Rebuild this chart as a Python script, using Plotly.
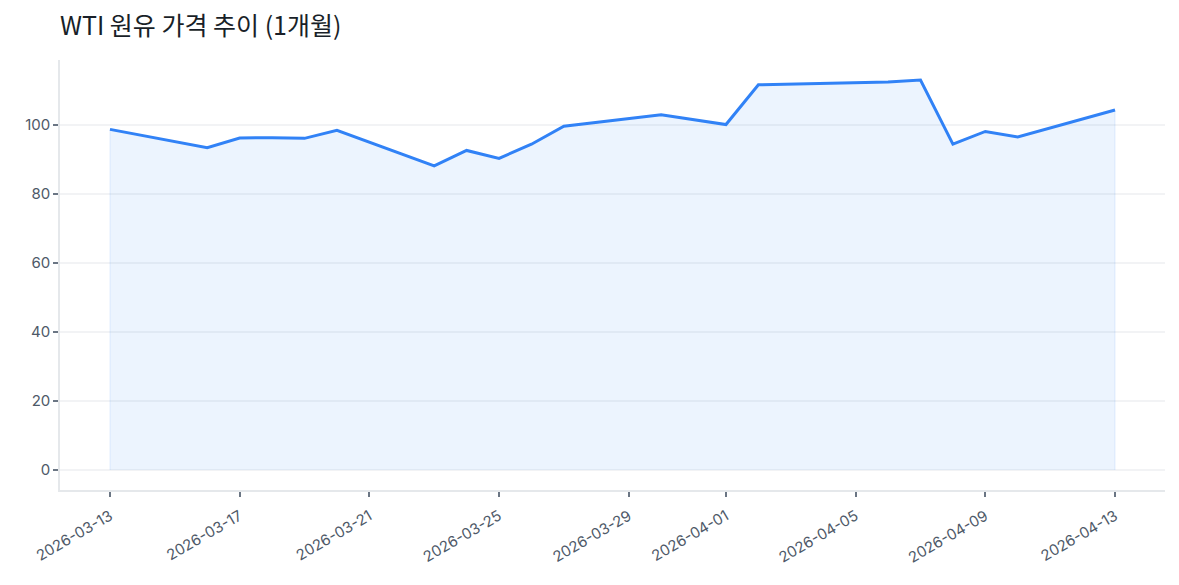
import plotly.graph_objects as go

dates = [
    "2026-03-13", "2026-03-16", "2026-03-17", "2026-03-18", "2026-03-19",
    "2026-03-20", "2026-03-23", "2026-03-24", "2026-03-25", "2026-03-26",
    "2026-03-27", "2026-03-30", "2026-04-01", "2026-04-02", "2026-04-06",
    "2026-04-07", "2026-04-08", "2026-04-09", "2026-04-10", "2026-04-13",
]
prices = [
    98.7, 93.4, 96.2, 96.3, 96.1,
    98.4, 88.1, 92.6, 90.3, 94.4,
    99.6, 102.9, 100.1, 111.6, 112.4,
    113.0, 94.4, 98.1, 96.5, 104.3,
]
tick_dates = [
    "2026-03-13", "2026-03-17", "2026-03-21", "2026-03-25", "2026-03-29",
    "2026-04-01", "2026-04-05", "2026-04-09", "2026-04-13",
]
y_ticks = [0, 20, 40, 60, 80, 100]

line_color = "#3182f6"
tick_font = "Inter, sans-serif"

# page body has an 8px margin, so the figure is sized to fit inside it
W, H = 1163, 569

fig = go.Figure()

# shaded area under the line (closed polygon so the faint edge shows like the original)
fig.add_trace(go.Scatter(
    x=[dates[0]] + dates + [dates[-1]],
    y=[0] + prices + [0],
    mode="lines",
    fill="toself",
    fillcolor="rgba(49,130,246,0.09)",
    line=dict(color="rgba(49,130,246,0.12)", width=1),
    hoverinfo="skip",
    showlegend=False,
))

fig.add_trace(go.Scatter(
    x=dates,
    y=prices,
    mode="lines",
    line=dict(color=line_color, width=3),
    showlegend=False,
))

fig.update_layout(
    width=W,
    height=H,
    paper_bgcolor="white",
    plot_bgcolor="white",
    margin=dict(l=52, r=6, t=52, b=87),
    title=dict(
        text="WTI 원유 가격 추이 (1개월)",
        x=52 / W,
        xanchor="left",
        y=1 - 18 / H,
        yanchor="middle",
        font=dict(family="Noto Sans CJK KR", size=25, color="#191f28"),
    ),
    font=dict(family=tick_font, size=15, color="#4e5968"),
)

fig.update_xaxes(
    type="date",
    range=["2026-03-11 11:00", "2026-04-14 13:00"],
    tickvals=tick_dates,
    tickformat="%Y-%m-%d",
    tickangle=-30,
    ticks="outside",
    ticklen=5,
    tickwidth=1.5,
    tickcolor="#6b7684",
    ticklabelstandoff=5,
    showline=True,
    linecolor="#e5e8eb",
    linewidth=1.5,
    showgrid=False,
    zeroline=False,
    tickfont=dict(family=tick_font, size=15, color="#4e5968"),
)

fig.update_yaxes(
    range=[-5.8, 118.8],
    tickvals=y_ticks,
    ticks="outside",
    ticklen=5,
    tickwidth=1.5,
    tickcolor="#6b7684",
    showline=True,
    linecolor="#e5e8eb",
    linewidth=1.5,
    showgrid=True,
    gridcolor="#f2f3f5",
    gridwidth=1.5,
    zeroline=False,
    tickfont=dict(family=tick_font, size=15, color="#4e5968"),
)

fig.write_html("out.html")
